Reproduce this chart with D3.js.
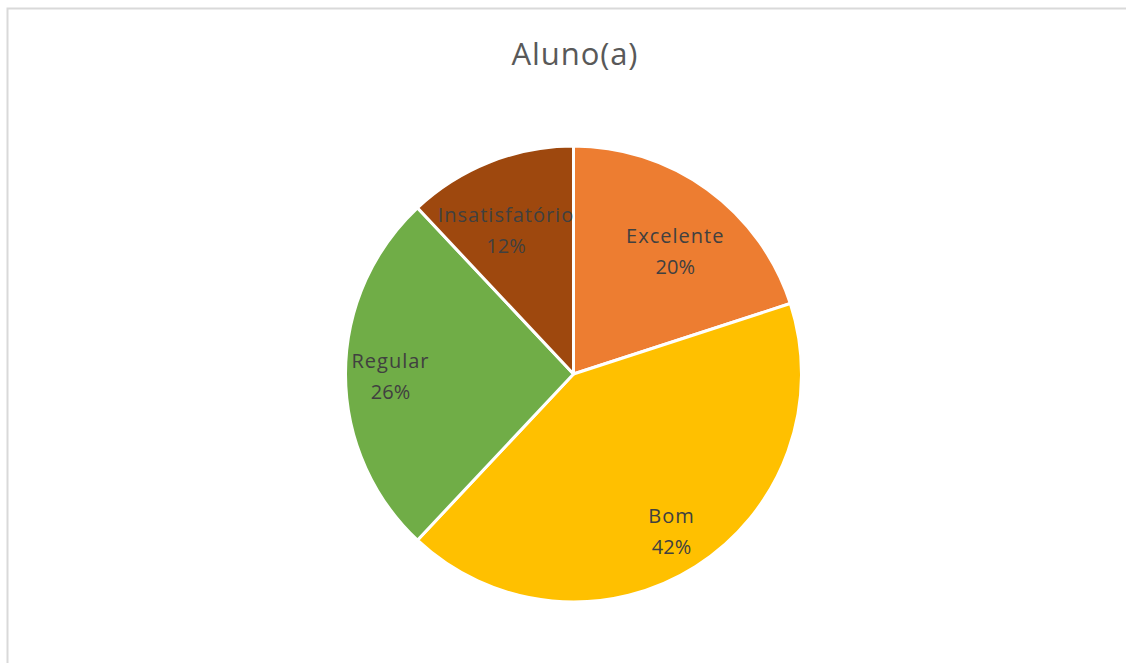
<!DOCTYPE html>
<html>
<head>
<meta charset="utf-8">
<script src="https://cdn.jsdelivr.net/npm/d3@7"></script>
<style>
  html, body { margin: 0; padding: 0; background: #fff; }
  svg { display: block; }
</style>
</head>
<body>
<svg id="chart" width="1126" height="663"></svg>
<script>
const title = "Aluno(a)";
const categories = ["Excelente", "Bom", "Regular", "Insatisfatório"];
const values = [20, 42, 26, 12];
const colors = ["#ED7D31", "#FFC000", "#70AD47", "#9E480E"];

const svg = d3.select("#chart");

// chart area border
svg.append("rect")
  .attr("x", 7.5).attr("y", 8.5)
  .attr("width", 1150).attr("height", 700)
  .attr("fill", "#fff")
  .attr("stroke", "#d9d9d9")
  .attr("stroke-width", 2);

svg.append("text")
  .attr("x", 575).attr("y", 65)
  .attr("text-anchor", "middle")
  .attr("font-family", "'Open Sans', sans-serif")
  .attr("font-size", 31)
  .attr("letter-spacing", 0.9)
  .attr("fill", "#595959")
  .text(title);

const cx = 573.5, cy = 374, R = 228;
const data = categories.map((c, i) => ({ name: c, value: values[i], color: colors[i] }));
const total = d3.sum(values);

const pie = d3.pie().value(d => d.value).sort(null);
const arcs = pie(data);
const arc = d3.arc().innerRadius(0).outerRadius(R);

const g = svg.append("g").attr("transform", `translate(${cx},${cy})`);

g.selectAll("path.slice")
  .data(arcs)
  .join("path")
  .attr("class", "slice")
  .attr("d", arc)
  .attr("fill", d => d.data.color)
  .attr("stroke", "#fff")
  .attr("stroke-width", 3)
  .attr("stroke-linejoin", "round");

// "best fit" style label placement: smaller slices pull labels inward
// and away from the top divider
function labelPos(d) {
  const share = d.data.value / total;
  const r = share < 0.22 ? 161 : 183;
  let a = (d.startAngle + d.endAngle) / 2;
  if (share < 0.22) {
    const nudge = 3.2 * Math.PI / 180;
    a += (a < Math.PI ? nudge : -nudge);
  }
  return [r * Math.sin(a), -r * Math.cos(a)];
}

const labels = g.selectAll("text.lbl")
  .data(arcs)
  .join("text")
  .attr("class", "lbl")
  .attr("text-anchor", "middle")
  .attr("font-family", "'Open Sans', sans-serif")
  .attr("font-size", 20)
  .attr("fill", "#404040")
  .attr("transform", d => {
    const [x, y] = labelPos(d);
    return `translate(${x},${y})`;
  });

labels.append("tspan")
  .attr("x", 0).attr("y", -6)
  .attr("letter-spacing", 1)
  .text(d => d.data.name);
labels.append("tspan")
  .attr("x", 0).attr("y", 25)
  .text(d => Math.round(d.data.value / total * 100) + "%");
</script>
</body>
</html>
